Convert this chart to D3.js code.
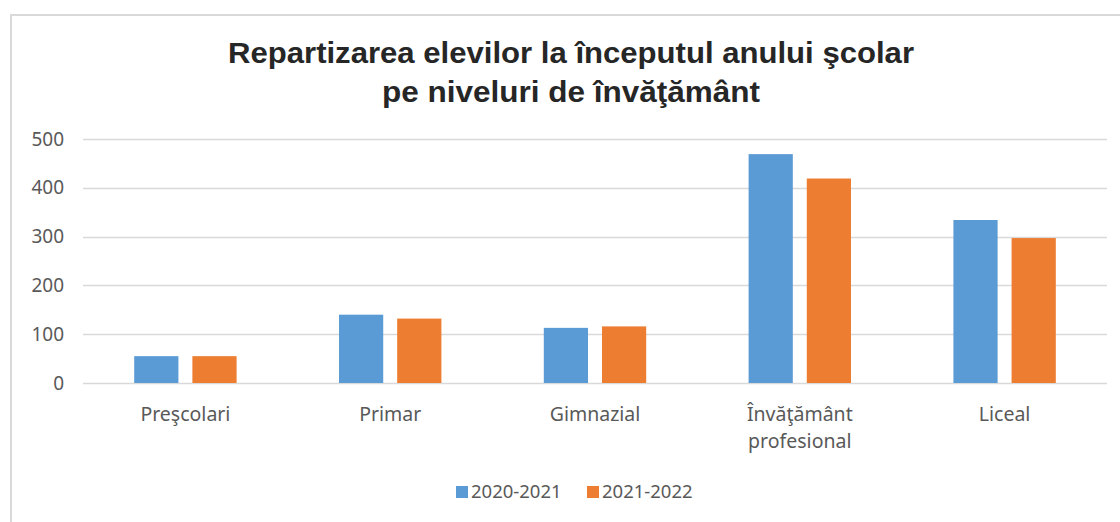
<!DOCTYPE html>
<html>
<head>
<meta charset="utf-8">
<script src="https://cdn.jsdelivr.net/npm/d3@7"></script>
<style>
  body { margin: 0; background: #fff; }
  svg { display: block; }
</style>
</head>
<body>
<div id="chart"></div>
<script>
const width = 1120;
const height = 522;

const categories = ["Preşcolari", "Primar", "Gimnazial", "Învăţământ profesional", "Liceal"];
const categoryLines = [["Preşcolari"], ["Primar"], ["Gimnazial"], ["Învăţământ", "profesional"], ["Liceal"]];
const seriesNames = ["2020-2021", "2021-2022"];
const values2020 = [55, 140, 113, 469, 334];
const values2021 = [55, 132, 116, 419, 297];
const yTicks = [0, 100, 200, 300, 400, 500];
const colors = ["#5b9bd5", "#ed7d31"];

const margin = { top: 139, right: 13, bottom: 139, left: 83 };

const svg = d3.select('#chart').append('svg')
    .attr('width', width)
    .attr('height', height);

// chart frame (only top and left edges visible)
svg.append('path')
    .attr('d', 'M11,522 V15 H1120')
    .attr('fill', 'none')
    .attr('stroke', '#d9d9d9')
    .attr('stroke-width', 2);

const title = svg.append('text')
    .attr('text-anchor', 'middle')
    .style('font-family', 'Liberation Sans, Arial, sans-serif')
    .style('font-weight', 'bold')
    .style('font-size', '29px')
    .attr('fill', '#262626');
title.append('tspan').attr('x', 571).attr('y', 63)
    .attr('textLength', 686).attr('lengthAdjust', 'spacingAndGlyphs')
    .text('Repartizarea elevilor la începutul anului şcolar');
title.append('tspan').attr('x', 571).attr('y', 102)
    .attr('textLength', 378).attr('lengthAdjust', 'spacingAndGlyphs')
    .text('pe niveluri de învăţământ');

const x = d3.scaleBand()
    .domain(categories)
    .range([margin.left, width - margin.right])
    .paddingInner(0.5)
    .paddingOuter(0.25);

const x1 = d3.scaleBand()
    .domain(seriesNames)
    .range([0, x.bandwidth()])
    .paddingInner(0.24);

const y = d3.scaleLinear()
    .domain([0, 500])
    .range([height - margin.bottom, margin.top]);

// gridlines
svg.append('g')
    .selectAll('line')
    .data(yTicks)
    .enter().append('line')
    .attr('x1', margin.left)
    .attr('x2', width - margin.right)
    .attr('y1', d => Math.round(y(d)) + 0.5)
    .attr('y2', d => Math.round(y(d)) + 0.5)
    .attr('stroke', '#d9d9d9')
    .attr('stroke-width', 1.3);

// y axis labels
const yAxis = svg.append('g')
    .attr('transform', 'translate(64,0)')
    .call(d3.axisLeft(y).tickValues(yTicks).tickSize(0).tickPadding(0));
yAxis.select('.domain').remove();
yAxis.selectAll('text')
    .style('font-family', 'Noto Sans, sans-serif')
    .style('font-size', '19px')
    .attr('fill', '#595959');

// bars
const series = [values2020, values2021];
const groups = svg.append('g')
    .selectAll('g')
    .data(categories)
    .enter().append('g')
    .attr('transform', d => 'translate(' + x(d) + ',0)');

groups.selectAll('rect')
    .data((d, i) => seriesNames.map((s, j) => ({ s: s, v: series[j][i], c: colors[j] })))
    .enter().append('rect')
    .attr('x', d => x1(d.s))
    .attr('width', x1.bandwidth())
    .attr('y', d => y(d.v))
    .attr('height', d => y(0) - y(d.v))
    .attr('fill', d => d.c);

// category labels
const catLabels = svg.append('g')
    .selectAll('text')
    .data(categories)
    .enter().append('text')
    .attr('text-anchor', 'middle')
    .attr('x', d => x(d) + x.bandwidth() / 2)
    .attr('y', 421)
    .style('font-family', 'Noto Sans, sans-serif')
    .style('font-size', '19.5px')
    .attr('fill', '#595959');
catLabels.selectAll('tspan')
    .data((d, i) => categoryLines[i].map(l => ({ l: l, c: d })))
    .enter().append('tspan')
    .attr('x', d => x(d.c) + x.bandwidth() / 2)
    .attr('dy', (d, i) => i === 0 ? 0 : 27)
    .text(d => d.l);

// legend
const legendX = [456, 587];
const legend = svg.append('g')
    .selectAll('g')
    .data(seriesNames)
    .enter().append('g')
    .attr('transform', (d, i) => 'translate(' + legendX[i] + ',486)');

legend.append('rect')
    .attr('width', 12)
    .attr('height', 12)
    .attr('fill', (d, i) => colors[i]);

legend.append('text')
    .attr('x', 15)
    .attr('y', 6)
    .attr('dy', '.35em')
    .style('font-family', 'Noto Sans, sans-serif')
    .style('font-size', '18.5px')
    .attr('fill', '#595959')
    .text(d => d);
</script>
</body>
</html>
